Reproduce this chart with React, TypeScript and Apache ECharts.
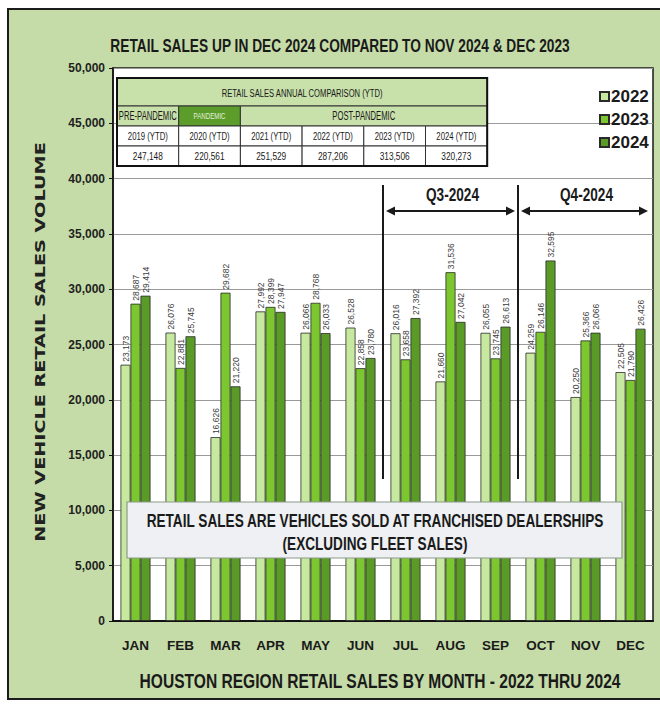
import React, { useEffect, useRef } from 'react';
import * as echarts from 'echarts';

const months = ['JAN', 'FEB', 'MAR', 'APR', 'MAY', 'JUN', 'JUL', 'AUG', 'SEP', 'OCT', 'NOV', 'DEC'];
const seriesNames = ['2022', '2023', '2024'];
const sales2022 = [23173, 26076, 16626, 27992, 26066, 26528, 26016, 21660, 26055, 24259, 20250, 22505];
const sales2023 = [28687, 22881, 29682, 28399, 28768, 22858, 23658, 31536, 23745, 26146, 25366, 21790];
const sales2024 = [29414, 25745, 21220, 27947, 26033, 23780, 27392, 27042, 26613, 32595, 26066, 26426];
const seriesColors = ['#c6e89f', '#7cc72f', '#5a9a27'];

const tableTitle = 'RETAIL SALES ANNUAL COMPARISON (YTD)';
const tablePhases = [
  { label: 'PRE-PANDEMIC', span: 1, dark: false, w: 58 },
  { label: 'PANDEMIC', span: 1, dark: true, w: 32 },
  { label: 'POST-PANDEMIC', span: 4, dark: false, w: 63 },
];
const tableYears = ['2019 (YTD)', '2020 (YTD)', '2021 (YTD)', '2022 (YTD)', '2023 (YTD)', '2024 (YTD)'];
const tableTotals = ['247,148', '220,561', '251,529', '287,206', '313,506', '320,273'];

const chartTitle = 'RETAIL SALES UP IN DEC 2024 COMPARED TO NOV 2024 & DEC 2023';
const xTitle = 'HOUSTON REGION RETAIL SALES BY MONTH - 2022 THRU 2024';
const yTitle = 'NEW VEHICLE RETAIL SALES VOLUME';
const noteLines = ['RETAIL SALES ARE VEHICLES SOLD AT FRANCHISED DEALERSHIPS', '(EXCLUDING FLEET SALES)'];
const noteWidths = [458, 185];
const quarters = [
  { label: 'Q3-2024', from: 5.5, to: 8.5 },
  { label: 'Q4-2024', from: 8.5, to: 11.5 },
];

const SANS = "'Liberation Sans', Arial, sans-serif";
const WIDE = "'DejaVu Sans', Verdana, sans-serif";
const fmt = (v: number) => v.toLocaleString('en-US');

export default function App() {
  const ref = useRef<HTMLDivElement>(null);
  useEffect(() => {
    document.body.style.margin = '0';
    const chart = echarts.init(ref.current!, null, { renderer: 'svg' });
    const ctx = document.createElement('canvas').getContext('2d')!;
    const fitText = (text: string, x: number, y: number, size: number, weight: string, target: number, family: string, extra: any = {}) => {
      ctx.font = `${weight} ${size}px ${family}`;
      const w = ctx.measureText(text).width || target;
      return {
        type: 'text', x, y, z: extra.z ?? 101, scaleX: target / w, rotation: extra.rotation ?? 0,
        style: { text, fontFamily: family, fontWeight: weight, fontSize: size, fill: extra.fill ?? '#1a1a1a', textAlign: 'center', textVerticalAlign: 'middle' },
      };
    };
    const data = [sales2022, sales2023, sales2024];
    const gridLeft = 113, gridTop = 68, gridRight = 653, gridBottom = 621;
    const option: any = {
      animation: false,
      backgroundColor: 'transparent',
      grid: {
        left: gridLeft, top: gridTop, width: gridRight - gridLeft, height: gridBottom - gridTop,
        show: true, backgroundColor: '#ffffff', borderColor: '#1a1a1a', borderWidth: 1.5,
      },
      legend: {
        orient: 'vertical', left: 594, top: 83, itemWidth: 9, itemHeight: 9, itemGap: 6,
        icon: 'rect',
        textStyle: { fontFamily: SANS, fontWeight: 'bold', fontSize: 17, color: '#1a1a1a', padding: [0, 0, 0, -3] },
        data: seriesNames,
      },
      xAxis: {
        type: 'category', data: months,
        axisLine: { show: true, lineStyle: { color: '#111', width: 2 } },
        axisTick: { show: false },
        axisLabel: { fontFamily: SANS, fontWeight: 'bold', fontSize: 13.5, color: '#1a1a1a', margin: 17 },
      },
      yAxis: {
        type: 'value', min: 0, max: 50000, interval: 5000,
        axisLine: { show: true, lineStyle: { color: '#111', width: 1.5 } },
        axisTick: { show: true, length: 4, lineStyle: { color: '#111' } },
        axisLabel: { fontFamily: SANS, fontWeight: 'bold', fontSize: 12, color: '#1f1f1f', margin: 8, formatter: (v: number) => fmt(v) },
        splitLine: { show: true, lineStyle: { color: '#9a9a9a', width: 1 } },
      },
      series: seriesNames.map((name, i) => ({
        name, type: 'bar', data: data[i], barWidth: 10, barGap: '0%',
        itemStyle: { color: seriesColors[i], borderColor: '#2a2a2a', borderWidth: 0.8 },
        label: {
          show: true, position: 'top', rotate: 90, align: 'left', verticalAlign: 'middle', distance: 3,
          fontFamily: SANS, fontSize: 8.5, color: '#3a3a3a', formatter: (p: any) => fmt(p.value),
        },
      })),
    };
    chart.setOption(option);

    const graphics: any[] = [];
    // titles
    graphics.push(fitText(chartTitle, 340, 46, 19, 'bold', 460, SANS, { z: 100 }));
    graphics.push(fitText(xTitle, 380, 681, 21, 'bold', 482, SANS, { z: 100 }));
    graphics.push(fitText(yTitle, 40, 342, 14, 'bold', 400, WIDE, { z: 100, rotation: Math.PI / 2, fill: '#222' }));

    // table
    const tx = 117, colW = 61.7;
    const rows = [78, 106, 126, 146, 166];
    const tw = colW * 6;
    const lightFill = '#c8e0aa';
    graphics.push({ type: 'rect', z: 100, shape: { x: tx, y: rows[0], width: tw, height: rows[1] - rows[0] }, style: { fill: lightFill, stroke: '#333', lineWidth: 1 } });
    graphics.push(fitText(tableTitle, tx + tw / 2, (rows[0] + rows[1]) / 2 + 1, 11.5, 'normal', 162, SANS));
    let c = 0;
    tablePhases.forEach((ph) => {
      const x = tx + c * colW, w = ph.span * colW;
      graphics.push({ type: 'rect', z: 100, shape: { x, y: rows[1], width: w, height: rows[2] - rows[1] }, style: { fill: ph.dark ? '#5c9c2b' : lightFill, stroke: '#333', lineWidth: 1 } });
      graphics.push(fitText(ph.label, x + w / 2, (rows[1] + rows[2]) / 2, ph.dark ? 9 : 12, 'normal', ph.w, SANS, { fill: ph.dark ? '#e4f1d6' : '#1a1a1a' }));
      c += ph.span;
    });
    [tableYears, tableTotals].forEach((arr, r) => {
      arr.forEach((t, k) => {
        const x = tx + k * colW;
        graphics.push({ type: 'rect', z: 100, shape: { x, y: rows[2 + r], width: colW, height: rows[3 + r] - rows[2 + r] }, style: { fill: '#ffffff', stroke: '#333', lineWidth: 1 } });
        graphics.push(fitText(t, x + colW / 2, (rows[2 + r] + rows[3 + r]) / 2, 11.5, 'normal', r === 0 ? 40 : 30, SANS));
      });
    });
    graphics.push({ type: 'rect', z: 102, shape: { x: tx, y: rows[0], width: tw, height: rows[4] - rows[0] }, style: { fill: 'none', stroke: '#111', lineWidth: 2 } });

    // quarter annotations
    const lineTop = 185, lineBottom = 479, arrowY = 211;
    const xAt = (v: number) => {
      const lo = Math.floor(v), hi = Math.ceil(v);
      if (hi > 11) return gridRight - 2;
      const a = chart.convertToPixel({ xAxisIndex: 0 }, months[lo]) as number;
      const b = chart.convertToPixel({ xAxisIndex: 0 }, months[hi]) as number;
      return a + (b - a) * (v - lo);
    };
    const drawn = new Set<number>();
    quarters.forEach((q) => {
      const x1 = xAt(q.from), x2 = xAt(q.to);
      const ends = q.to > 11 ? [x1] : [x1, x2];
      ends.forEach((x) => {
        const key = Math.round(x);
        if (drawn.has(key)) return;
        drawn.add(key);
        graphics.push({ type: 'line', z: 110, shape: { x1: x, y1: lineTop, x2: x, y2: lineBottom }, style: { stroke: '#1a1a1a', lineWidth: 2 } });
      });
      const a1 = x1 + 3, a2 = x2 - 3;
      graphics.push({ type: 'line', z: 110, shape: { x1: a1 + 4, y1: arrowY, x2: a2 - 4, y2: arrowY }, style: { stroke: '#1a1a1a', lineWidth: 2 } });
      graphics.push({ type: 'polygon', z: 110, shape: { points: [[a1, arrowY], [a1 + 9, arrowY - 4.5], [a1 + 9, arrowY + 4.5]] }, style: { fill: '#1a1a1a' } });
      graphics.push({ type: 'polygon', z: 110, shape: { points: [[a2, arrowY], [a2 - 9, arrowY - 4.5], [a2 - 9, arrowY + 4.5]] }, style: { fill: '#1a1a1a' } });
      graphics.push(fitText(q.label, (x1 + x2) / 2 + 2, 195, 18, 'bold', 53, SANS, { z: 110 }));
    });

    // note box
    graphics.push({ type: 'rect', z: 120, shape: { x: 127, y: 502, width: 495, height: 56 }, style: { fill: '#eef0f3', stroke: '#8c9a8c', lineWidth: 1.2 } });
    noteLines.forEach((t, i) => {
      graphics.push(fitText(t, 375, 521 + i * 23, 18, 'bold', noteWidths[i], SANS, { z: 121 }));
    });

    chart.setOption({ graphic: { elements: graphics } });
    return () => chart.dispose();
  }, []);
  return (
    <div style={{ position: 'relative', width: 660, height: 705, overflow: 'hidden', background: '#ffffff' }}>
      <div style={{ position: 'absolute', left: 7, top: 8, width: 656, height: 692, background: '#c5dca8', border: '2px solid #1c1c1c', boxSizing: 'border-box' }} />
      <div ref={ref} style={{ position: 'absolute', left: 0, top: 0, width: 660, height: 705 }} />
    </div>
  );
}
